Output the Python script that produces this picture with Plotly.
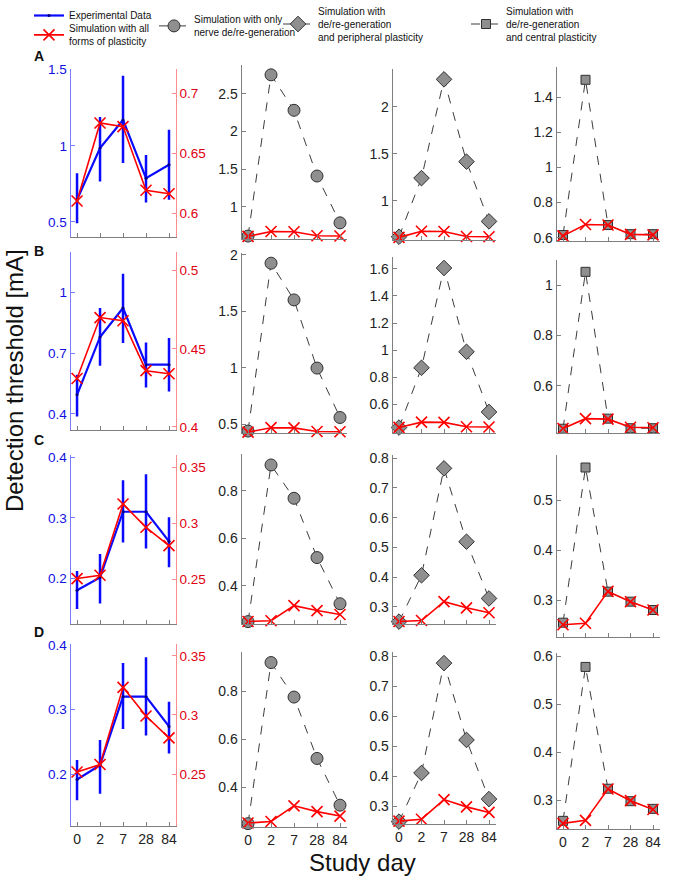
import plotly.graph_objects as go

# ---------------- data ----------------
days = ['0', '2', '7', '28', '84']

# Experimental data (mean, upper and lower error bar ends)
exp_mean_A = [0.645, 0.985, 1.17, 0.787, 0.875]
exp_hi_A = [0.82, 1.19, 1.46, 0.94, 1.105]
exp_lo_A = [0.49, 0.765, 0.886, 0.627, 0.645]

exp_mean_B = [0.494, 0.78, 0.923, 0.643, 0.643]
exp_hi_B = [0.593, 0.923, 1.092, 0.753, 0.775]
exp_lo_B = [0.387, 0.638, 0.75, 0.53, 0.51]

exp_mean_C = [0.18, 0.201, 0.31, 0.31, 0.261]
exp_hi_C = [0.212, 0.24, 0.362, 0.372, 0.301]
exp_lo_C = [0.149, 0.158, 0.259, 0.249, 0.218]

exp_mean_D = [0.192, 0.214, 0.32, 0.32, 0.274]
exp_hi_D = [0.222, 0.253, 0.372, 0.381, 0.312]
exp_lo_D = [0.16, 0.17, 0.27, 0.26, 0.232]

# Simulation with all forms of plasticity
sim_all_A = [0.610, 0.675, 0.672, 0.619, 0.616]
sim_all_B = [0.431, 0.470, 0.468, 0.436, 0.434]
sim_all_C = [0.2506, 0.2536, 0.3172, 0.2964, 0.280]
sim_all_D = [0.2517, 0.258, 0.3233, 0.2991, 0.2806]

# Simulation with only nerve de/re-generation
nerve_A = [0.615, 2.75, 2.28, 1.41, 0.79]
nerve_B = [0.44, 1.925, 1.60, 0.997, 0.56]
nerve_C = [0.25, 0.908, 0.768, 0.519, 0.325]
nerve_D = [0.249, 0.921, 0.777, 0.521, 0.326]

# Simulation with de/re-generation and peripheral plasticity
periph_A = [0.617, 1.24, 2.29, 1.415, 0.78]
periph_B = [0.43, 0.87, 1.605, 0.988, 0.545]
periph_C = [0.25, 0.406, 0.766, 0.519, 0.328]
periph_D = [0.25, 0.412, 0.778, 0.522, 0.325]

# Simulation with de/re-generation and central plasticity
central_A = [0.615, 1.50, 0.672, 0.62, 0.62]
central_B = [0.43, 1.053, 0.47, 0.432, 0.432]
central_C = [0.2546, 0.565, 0.3167, 0.2967, 0.280]
central_D = [0.257, 0.578, 0.324, 0.298, 0.282]

row_letters = ['A', 'B', 'C', 'D']
exp_mean = [exp_mean_A, exp_mean_B, exp_mean_C, exp_mean_D]
exp_hi = [exp_hi_A, exp_hi_B, exp_hi_C, exp_hi_D]
exp_lo = [exp_lo_A, exp_lo_B, exp_lo_C, exp_lo_D]
sim_all = [sim_all_A, sim_all_B, sim_all_C, sim_all_D]
nerve = [nerve_A, nerve_B, nerve_C, nerve_D]
periph = [periph_A, periph_B, periph_C, periph_D]
central = [central_A, central_B, central_C, central_D]

leg_exp = 'Experimental Data'
leg_all = 'Simulation with all<br>forms of plasticity'
leg_nerve = 'Simulation with only<br>nerve de/re-generation'
leg_periph = 'Simulation with<br>de/re-generation<br>and peripheral plasticity'
leg_central = 'Simulation with<br>de/re-generation<br>and central plasticity'

# ---------------- layout settings ----------------
W, H = 680, 878
FONT = 'Liberation Sans, Arial, sans-serif'
BLUE = '#0a0aff'
RED = '#ff0000'
GRAY_AX = '#7f7f7f'
XRANGE = [-0.28, 4.3]

col_px = [(70.6, 175.9), (241.6, 346.9), (392.7, 495.75), (556.7, 659.75)]
row_px = [
    [(69, 237), (65, 239), (69, 240), (67, 241)],
    [(252, 430), (253, 433), (257, 433), (260, 433)],
    [(455, 624), (454, 624), (455, 624), (455, 637)],
    [(644, 826), (652, 827), (652, 824), (653, 829)],
]
# y ranges and tick values: [row][col]
y_ranges = [
    [[0.4, 1.505], [0.576, 2.88], [0.582, 2.40], [0.581, 1.573]],
    [[0.32, 1.2], [0.423, 2.015], [0.39, 1.686], [0.413, 1.10]],
    [[0.124, 0.404], [0.24, 0.954], [0.242, 0.811], [0.226, 0.59]],
    [[0.12, 0.4015], [0.235, 0.965], [0.242, 0.815], [0.24, 0.607]],
]
y_ticks = [
    [[0.5, 1, 1.5], [1, 1.5, 2, 2.5], [1, 1.5, 2], [0.6, 0.8, 1, 1.2, 1.4]],
    [[0.4, 0.7, 1], [0.5, 1, 1.5, 2], [0.6, 0.8, 1, 1.2, 1.4, 1.6], [0.6, 0.8, 1]],
    [[0.2, 0.3, 0.4], [0.4, 0.6, 0.8], [0.3, 0.4, 0.5, 0.6, 0.7, 0.8], [0.3, 0.4, 0.5]],
    [[0.2, 0.3, 0.4], [0.4, 0.6, 0.8], [0.3, 0.4, 0.5, 0.6, 0.7, 0.8], [0.3, 0.4, 0.5, 0.6]],
]
red_ranges = [[0.58, 0.72], [0.398, 0.512], [0.21, 0.361], [0.206, 0.36]]
red_ticks = [[0.6, 0.65, 0.7], [0.4, 0.45, 0.5], [0.25, 0.3, 0.35], [0.25, 0.3, 0.35]]
letter_y = [56, 251, 440, 632]


def xd(p0, p1):
    return [p0 / W, p1 / W]


def yd(top, bottom):
    return [1 - bottom / H, 1 - top / H]


fig = go.Figure()
layout = {}

gray_symbols = ['circle', 'diamond', 'square']
gray_sizes = [12, 12, 9]
gray_data = [nerve, periph, central]
gray_names = [leg_nerve, leg_periph, leg_central]
gray_legends = ['legend2', 'legend3', 'legend4']

for r in range(4):
    for c in range(4):
        k = r * 4 + c + 1
        xs = '' if k == 1 else str(k)
        xname, yname = 'x' + xs, 'y' + xs
        top, bottom = row_px[r][c]
        layout['xaxis' + xs] = dict(
            domain=xd(*col_px[c]), anchor=yname, type='category',
            range=XRANGE, showline=True, linecolor=GRAY_AX, linewidth=1,
            ticks='inside', ticklen=4, tickcolor=GRAY_AX,
            showticklabels=(r == 3), showgrid=False, zeroline=False,
            tickfont=dict(family=FONT, size=14, color='#222222'),
            categoryorder='array', categoryarray=days,
        )
        ycol = '#222222'
        ylinecol = GRAY_AX
        if c == 0:
            ycol = '#1010e0'
            ylinecol = '#7b7bff'
        layout['yaxis' + xs] = dict(
            domain=yd(top, bottom), anchor=xname, range=y_ranges[r][c],
            tickvals=y_ticks[r][c], showline=True, linecolor=ylinecol,
            linewidth=1, ticks='inside', ticklen=4, tickcolor=ylinecol,
            showgrid=False, zeroline=False,
            tickfont=dict(family=FONT, size=14 if c else 13.5, color=ycol),
        )
        if c == 0:
            rk = 17 + r
            layout['yaxis' + str(rk)] = dict(
                overlaying=yname, anchor=xname, side='right',
                range=red_ranges[r], tickvals=red_ticks[r], showline=True,
                linecolor='#ff8c8c', linewidth=1, ticks='inside', ticklen=4,
                tickcolor='#ff8c8c', showgrid=False, zeroline=False,
                tickfont=dict(family=FONT, size=13.5, color='#e00010'),
            )
            em = exp_mean[r]
            fig.add_trace(go.Scatter(
                x=days, y=em, xaxis=xname, yaxis=yname, mode='lines+markers',
                name=leg_exp, legend='legend', showlegend=(r == 0),
                line=dict(color=BLUE, width=2.2),
                marker=dict(color='#000080', size=3),
                error_y=dict(type='data', symmetric=False,
                             array=[h - m for h, m in zip(exp_hi[r], em)],
                             arrayminus=[m - l for m, l in zip(em, exp_lo[r])],
                             color=BLUE, thickness=2.5, width=0),
                cliponaxis=False,
            ))
            fig.add_trace(go.Scatter(
                x=days, y=sim_all[r], xaxis=xname, yaxis='y' + str(rk),
                mode='lines+markers', name=leg_all, legend='legend5',
                showlegend=(r == 0), line=dict(color=RED, width=1.6),
                marker=dict(symbol='x-thin', size=11,
                            line=dict(color=RED, width=1.6)),
                cliponaxis=False,
            ))
        else:
            g = c - 1
            fig.add_trace(go.Scatter(
                x=days, y=gray_data[g][r], xaxis=xname, yaxis=yname,
                mode='lines+markers', name=gray_names[g],
                legend=gray_legends[g], showlegend=(r == 0),
                line=dict(color='#3c3c3c', width=1, dash='dash'),
                marker=dict(symbol=gray_symbols[g], size=gray_sizes[g],
                            color='#8f8f8f',
                            line=dict(color='#303030', width=1)),
                cliponaxis=False,
            ))
            fig.add_trace(go.Scatter(
                x=days, y=sim_all[r], xaxis=xname, yaxis=yname,
                mode='lines+markers', name=leg_all, showlegend=False,
                line=dict(color=RED, width=1.6),
                marker=dict(symbol='x-thin', size=11,
                            line=dict(color=RED, width=1.6)),
                cliponaxis=False,
            ))

leg_common = dict(xanchor='left', yanchor='top', bgcolor='rgba(0,0,0,0)',
                  font=dict(family=FONT, size=10, color='#111111'),
                  itemwidth=30, tracegroupgap=0, orientation='v')
layout['legend'] = dict(x=29 / W, y=1 - 1 / H, **leg_common)
layout['legend5'] = dict(x=29 / W, y=1 - 15.4 / H, **leg_common)
layout['legend2'] = dict(x=154 / W, y=1 - 6.4 / H, **leg_common)
layout['legend3'] = dict(x=278 / W, y=1 + 2 / H, **leg_common)
layout['legend4'] = dict(x=466 / W, y=1 + 2 / H, **leg_common)

annotations = []
for r in range(4):
    annotations.append(dict(
        text='<b>' + row_letters[r] + '</b>', x=39 / W, y=1 - letter_y[r] / H,
        xref='paper', yref='paper', showarrow=False,
        font=dict(family=FONT, size=14, color='#111111'),
        xanchor='center', yanchor='middle'))
annotations.append(dict(
    text='Detection threshold [mA]', x=15 / W, y=1 - 381 / H,
    xref='paper', yref='paper', showarrow=False, textangle=-90,
    font=dict(family=FONT, size=24, color='#111111'),
    xanchor='center', yanchor='middle'))
annotations.append(dict(
    text='Study day', x=362 / W, y=1 - 862 / H,
    xref='paper', yref='paper', showarrow=False,
    font=dict(family=FONT, size=24, color='#111111'),
    xanchor='center', yanchor='middle'))

fig.update_layout(
    width=W, height=H,
    margin=dict(l=0, r=0, t=0, b=0, autoexpand=False),
    paper_bgcolor='white', plot_bgcolor='white',
    font=dict(family=FONT), annotations=annotations, **layout,
)

fig.write_html(
    'out.html',
    config={'displayModeBar': False},
    post_script="document.body.style.margin='0';"
                "document.body.style.overflow='hidden';",
)
